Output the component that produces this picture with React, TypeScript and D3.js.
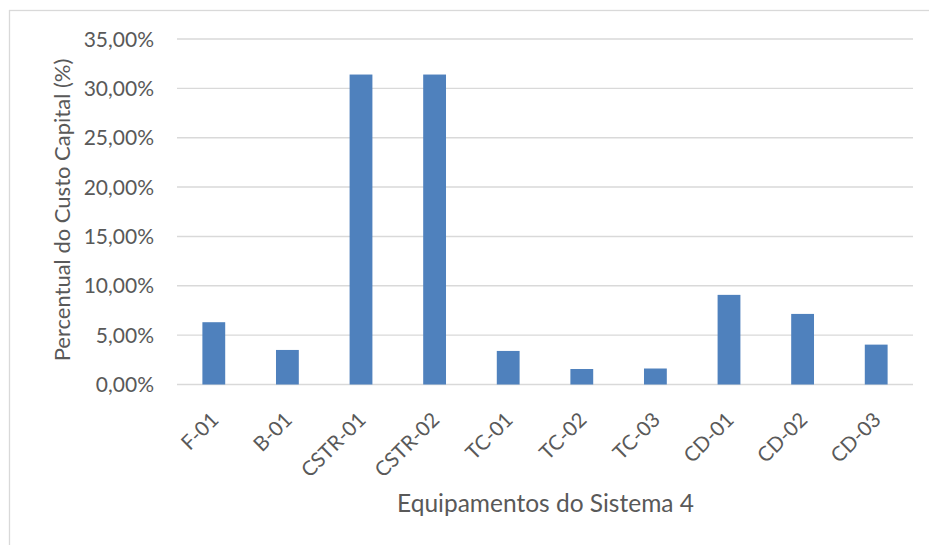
import React from "react";
import * as d3 from "d3";

const categories = ["F-01", "B-01", "CSTR-01", "CSTR-02", "TC-01", "TC-02", "TC-03", "CD-01", "CD-02", "CD-03"];
const values = [6.31, 3.5, 31.4, 31.4, 3.4, 1.57, 1.62, 9.08, 7.15, 4.04];
const yTicks = [0, 5, 10, 15, 20, 25, 30, 35];

const W = 929;
const H = 545;
const plot = { left: 177, right: 913, top: 39, bottom: 384.5 };
const FONT = "Lato, 'Open Sans', sans-serif";
const TEXT = "#595959";
const GRID = "#D9D9D9";
const BAR = "#4F81BD";

const fmt = (v: number) => v.toFixed(2).replace(".", ",") + "%";

export default function App() {
  const x = d3.scaleBand<string>().domain(categories).range([plot.left, plot.right]).paddingInner(0.69).paddingOuter(0.345);
  const y = d3.scaleLinear().domain([0, 35]).range([plot.bottom, plot.top]);

  return (
    <div style={{ position: "absolute", left: 0, top: 0 }}>
      <svg width={W} height={H} style={{ display: "block" }}>
        <rect x={0} y={0} width={W} height={H} fill="#fff" />
        <rect x={9.5} y={10.5} width={W + 10} height={H + 10} fill="none" stroke={GRID} strokeWidth={1.3} />
        {yTicks.map((t) => (
          <g key={t}>
            <line x1={plot.left} x2={plot.right} y1={y(t)} y2={y(t)} stroke={GRID} strokeWidth={1.4} />
            <text x={154} y={y(t)} dy="0.36em" textAnchor="end" fontFamily={FONT} fontSize={21} fill={TEXT}>
              {fmt(t)}
            </text>
          </g>
        ))}
        {categories.map((c, i) => (
          <rect key={c} x={x(c)} y={y(values[i])} width={x.bandwidth()} height={y(0) - y(values[i])} fill={BAR} />
        ))}
        {categories.map((c) => {
          const cx = (x(c) as number) + x.bandwidth() / 2 + 1;
          const cy = 416;
          return (
            <text key={c} transform={`translate(${cx},${cy}) rotate(-45)`} textAnchor="end" dy="0.35em" fontFamily={FONT} fontSize={20.5} fill={TEXT}>
              {c}
            </text>
          );
        })}
        <text transform="translate(70,210) rotate(-90)" textAnchor="middle" fontFamily={FONT} fontSize={22} fill={TEXT}>
          Percentual do Custo Capital (%)
        </text>
        <text x={545.5} y={512} textAnchor="middle" fontFamily={FONT} fontSize={24.5} fill={TEXT}>
          Equipamentos do Sistema 4
        </text>
      </svg>
    </div>
  );
}
